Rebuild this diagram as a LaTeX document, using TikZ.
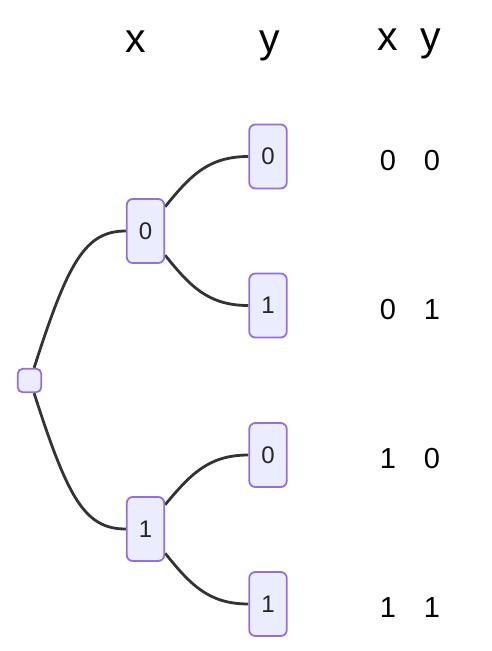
\documentclass[tikz,border=0pt]{standalone}
\usepackage{fontspec}
\setmainfont{Liberation Sans}
\usetikzlibrary{backgrounds}
\definecolor{nodefill}{HTML}{ECECFF}
\definecolor{nodeline}{HTML}{9370DB}
\definecolor{edgecol}{HTML}{333333}
\begin{document}
\begin{tikzpicture}[x=1pt,y=-1pt,
  box/.style={draw=nodeline,fill=nodefill,line width=1.8pt,rounded corners=6pt,
    minimum width=37.5pt,minimum height=64pt,inner sep=0pt,
    font=\fontsize{24}{24}\selectfont,text=black!85},
  rootbox/.style={draw=nodeline,fill=nodefill,line width=1.8pt,rounded corners=5pt,
    minimum width=23.5pt,minimum height=23.5pt,inner sep=0pt},
  edge/.style={draw=edgecol,line width=2.8pt},
  head/.style={anchor=base,inner sep=0pt,font=\fontsize{41}{41}\selectfont},
  val/.style={anchor=base,inner sep=0pt,font=\fontsize{29}{29}\selectfont}]
\useasboundingbox (0,0) rectangle (491,651);
% nodes
\node[rootbox] (r) at (29.5,380.5) {};
\node[box] (a0) at (145.5,231) {0};
\node[box] (a1) at (145.5,529) {1};
\node[box] (b00) at (268,156.5) {0};
\node[box] (b01) at (268,305.5) {1};
\node[box] (b10) at (268,455) {0};
\node[box] (b11) at (268,604) {1};
% edges
\begin{scope}[on background layer]
\draw[edge] (r.70) .. controls (68,262) and (85,231) .. (a0.west);
\draw[edge] (r.-70) .. controls (68,499) and (85,529) .. (a1.west);
\draw[edge] (a0.51) .. controls (190,176) and (208,156.5) .. (b00.west);
\draw[edge] (a0.-51) .. controls (190,286) and (208,305.5) .. (b01.west);
\draw[edge] (a1.51) .. controls (190,475) and (208,455) .. (b10.west);
\draw[edge] (a1.-51) .. controls (190,584) and (208,604) .. (b11.west);
\end{scope}
% headers
\node[head] (hx) at (136,52) {x};
\node[head] (hy) at (270,52) {y};
\node[head] (hx2) at (388,50) {x};
\node[head] (hy2) at (431,50) {y};
% values
\node[val] (v1x) at (388,170) {0};
\node[val] (v1y) at (432,170) {0};
\node[val] (v2x) at (388,319) {0};
\node[val] (v2y) at (432,319) {1};
\node[val] (v3x) at (388,468) {1};
\node[val] (v3y) at (432,468) {0};
\node[val] (v4x) at (388,617) {1};
\node[val] (v4y) at (432,617) {1};
\end{tikzpicture}
\end{document}
